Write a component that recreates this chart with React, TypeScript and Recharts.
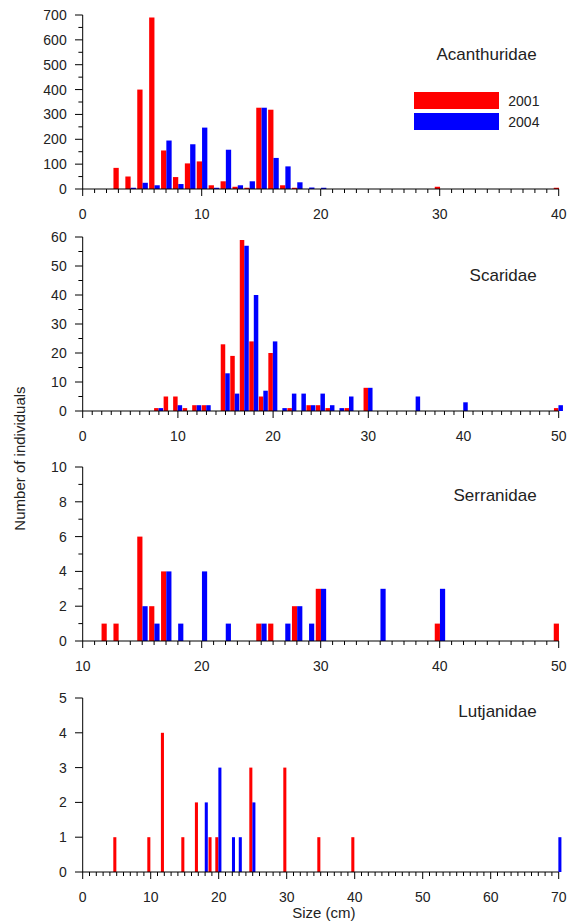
import React from "react";
import { BarChart, Bar, XAxis, YAxis, Legend } from "recharts";

const RED = "#ff0000";
const BLUE = "#0000ff";
const FONT = "'Liberation Sans', Arial, sans-serif";

// Acanthuridae
const acanthSizes = [3, 4, 5, 6, 7, 8, 9, 10, 11, 12, 13, 14, 15, 16, 17, 18, 19, 20, 30, 40];
const acanth2001 = [85, 50, 400, 690, 155, 48, 103, 111, 15, 31, 9, 5, 327, 319, 15, 5, 0, 0, 9, 5];
const acanth2004 = [0, 5, 25, 15, 195, 20, 180, 247, 5, 158, 15, 31, 327, 125, 91, 27, 6, 5, 0, 0];
const acanthXTicks = [0, 10, 20, 30, 40];
const acanthYTicks = [0, 100, 200, 300, 400, 500, 600, 700];

// Scaridae
const scarSizes = [8, 9, 10, 11, 12, 13, 15, 16, 17, 18, 19, 20, 21, 22, 23, 24, 25, 26, 27, 28, 30, 35, 40, 50];
const scar2001 = [1, 5, 5, 1, 2, 2, 23, 19, 59, 24, 5, 20, 0, 1, 0, 2, 2, 1, 0, 1, 8, 0, 0, 1];
const scar2004 = [1, 0, 2, 0, 2, 2, 13, 6, 57, 40, 7, 24, 1, 6, 6, 2, 6, 2, 1, 5, 8, 5, 3, 2];
const scarXTicks = [0, 10, 20, 30, 40, 50];
const scarYTicks = [0, 10, 20, 30, 40, 50, 60];

// Serranidae
const serrSizes = [12, 13, 15, 16, 17, 18, 20, 22, 25, 26, 27, 28, 29, 30, 35, 40, 50];
const serr2001 = [1, 1, 6, 2, 4, 0, 0, 0, 1, 1, 0, 2, 0, 3, 0, 1, 1];
const serr2004 = [0, 0, 2, 1, 4, 1, 4, 1, 1, 0, 1, 2, 1, 3, 3, 3, 0];
const serrXTicks = [10, 20, 30, 40, 50];
const serrYTicks = [0, 2, 4, 6, 8, 10];

// Lutjanidae
const lutjSizes = [5, 10, 12, 15, 17, 18, 19, 20, 22, 23, 25, 30, 35, 40, 70];
const lutj2001 = [1, 1, 4, 1, 2, 0, 1, 1, 0, 0, 3, 3, 1, 1, 0];
const lutj2004 = [0, 0, 0, 0, 0, 2, 0, 3, 1, 1, 2, 0, 0, 0, 1];
const lutjXTicks = [0, 10, 20, 30, 40, 50, 60, 70];
const lutjYTicks = [0, 1, 2, 3, 4, 5];

// one row per whole cm so every bar gets the same 1 cm band
function buildRows(sizes: number[], a: number[], b: number[], lo: number, hi: number) {
  const rows = [];
  for (let s = lo; s <= hi; s++) {
    const i = sizes.indexOf(s);
    rows.push({ size: s, y2001: i >= 0 ? a[i] : 0, y2004: i >= 0 ? b[i] : 0 });
  }
  return rows;
}

function withMinors(majors: number[], step: number) {
  const out: number[] = [];
  const last = majors[majors.length - 1];
  for (let v = majors[0]; v <= last + 1e-9; v += step) out.push(Math.round(v * 100) / 100);
  return out;
}

function XTick({ x, y, payload, majors }: any) {
  const major = majors.includes(payload.value);
  return (
    <g>
      <line x1={x} x2={x} y1={y} y2={y + (major ? 7 : 4)} stroke="#000" />
      {major && (
        <text x={x} y={y + 30} textAnchor="middle" fontSize={14} fontFamily={FONT} fill="#222">
          {payload.value}
        </text>
      )}
    </g>
  );
}

function YTick({ x, y, payload, majors }: any) {
  const major = majors.includes(payload.value);
  return (
    <g>
      <line x1={x} x2={x - (major ? 7.7 : 4.3)} y1={y} y2={y} stroke="#000" />
      {major && (
        <text x={x - 16} y={y + 5} textAnchor="end" fontSize={14} fontFamily={FONT} fill="#222">
          {payload.value}
        </text>
      )}
    </g>
  );
}

function KeyBox({ payload }: any) {
  return (
    <div>
      {(payload || []).map((e: any) => (
        <div key={e.value} style={{ display: "flex", alignItems: "center", height: 21 }}>
          <span style={{ display: "inline-block", width: 85, height: 17, background: e.color }} />
          <span style={{ marginLeft: 9, fontSize: 14, fontFamily: FONT, color: "#222" }}>{e.value}</span>
        </div>
      ))}
    </div>
  );
}

interface PanelProps {
  top: number;
  title: string;
  titleY: number;
  rows: any[];
  xTicks: number[];
  yTicks: number[];
  yMinor: number;
  barSize: number;
  legend?: boolean;
}

function Panel({ top, title, titleY, rows, xTicks, yTicks, yMinor, barSize, legend }: PanelProps) {
  const xAll = withMinors(xTicks, 1);
  const yAll = withMinors(yTicks, yMinor);
  return (
    <>
      <div style={{ position: "absolute", left: 0, top }}>
        <BarChart width={570} height={224} data={rows} barGap={0} margin={{ top: 15, right: 11.3, bottom: 0, left: 0 }}>
          <XAxis
            type="number"
            dataKey="size"
            domain={[xTicks[0], xTicks[xTicks.length - 1]]}
            ticks={xAll}
            interval={0}
            height={35}
            tickSize={0}
            tickMargin={0}
            tickLine={false}
            axisLine={{ stroke: "#000" }}
            tick={(p: any) => <XTick {...p} majors={xTicks} />}
          />
          <YAxis
            type="number"
            domain={[yTicks[0], yTicks[yTicks.length - 1]]}
            ticks={yAll}
            interval={0}
            width={82.7}
            tickSize={0}
            tickMargin={0}
            tickLine={false}
            axisLine={{ stroke: "#000" }}
            tick={(p: any) => <YTick {...p} majors={yTicks} />}
          />
          {legend && (
            <Legend
              layout="horizontal"
              verticalAlign="middle"
              align="center"
              wrapperStyle={{ top: 90.3, left: 414.3, width: 140 }}
              content={<KeyBox />}
            />
          )}
          <Bar dataKey="y2001" name="2001" fill={RED} barSize={barSize} isAnimationActive={false} />
          <Bar dataKey="y2004" name="2004" fill={BLUE} barSize={barSize} isAnimationActive={false} />
        </BarChart>
      </div>
      <div
        style={{
          position: "absolute",
          right: 33.3,
          top: titleY - 8.3,
          fontSize: 17,
          lineHeight: "17px",
          fontFamily: FONT,
          color: "#222",
          whiteSpace: "nowrap",
        }}
      >
        {title}
      </div>
    </>
  );
}

export default function App() {
  return (
    <div style={{ position: "absolute", left: 0, top: 0, width: 570, height: 924, background: "#fff", fontFamily: FONT }}>
      <Panel
        top={0}
        title="Acanthuridae"
        titleY={54}
        rows={buildRows(acanthSizes, acanth2001, acanth2004, 0, 40)}
        xTicks={acanthXTicks}
        yTicks={acanthYTicks}
        yMinor={50}
        barSize={5.3}
        legend
      />
      <Panel
        top={222.3}
        title="Scaridae"
        titleY={275}
        rows={buildRows(scarSizes, scar2001, scar2004, 0, 50)}
        xTicks={scarXTicks}
        yTicks={scarYTicks}
        yMinor={5}
        barSize={4.5}
      />
      <Panel
        top={452.3}
        title="Serranidae"
        titleY={495.7}
        rows={buildRows(serrSizes, serr2001, serr2004, 10, 50)}
        xTicks={serrXTicks}
        yTicks={serrYTicks}
        yMinor={1}
        barSize={5.2}
      />
      <Panel
        top={683.3}
        title="Lutjanidae"
        titleY={711}
        rows={buildRows(lutjSizes, lutj2001, lutj2004, 0, 70)}
        xTicks={lutjXTicks}
        yTicks={lutjYTicks}
        yMinor={1}
        barSize={3.6}
      />
      <div
        style={{
          position: "absolute",
          left: 19 - 100,
          top: 458 - 7.5,
          width: 200,
          textAlign: "center",
          fontSize: 15,
          lineHeight: "15px",
          color: "#222",
          transform: "rotate(-90deg)",
          whiteSpace: "nowrap",
        }}
      >
        Number of individuals
      </div>
      <div
        style={{
          position: "absolute",
          left: 323.8 - 60,
          top: 904.5,
          width: 120,
          textAlign: "center",
          fontSize: 15,
          lineHeight: "15px",
          color: "#222",
          whiteSpace: "nowrap",
        }}
      >
        Size (cm)
      </div>
    </div>
  );
}
